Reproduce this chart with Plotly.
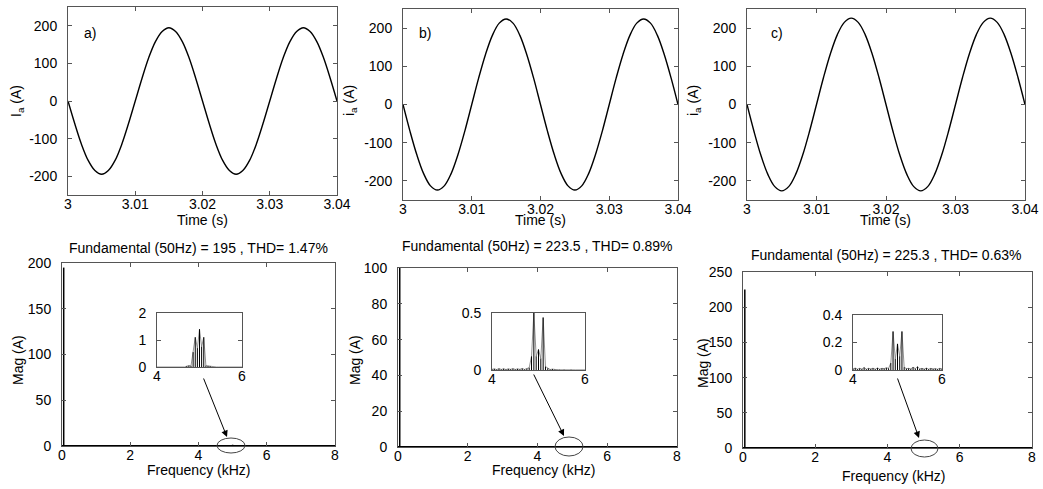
import plotly.graph_objects as go

W, H = 1043, 489
FONT = "Liberation Sans, Arial, sans-serif"

# ---------------- data ----------------
time_s = [3.000, 3.001, 3.002, 3.003, 3.004, 3.005, 3.006, 3.007, 3.008, 3.009,
          3.010, 3.011, 3.012, 3.013, 3.014, 3.015, 3.016, 3.017, 3.018, 3.019,
          3.020, 3.021, 3.022, 3.023, 3.024, 3.025, 3.026, 3.027, 3.028, 3.029,
          3.030, 3.031, 3.032, 3.033, 3.034, 3.035, 3.036, 3.037, 3.038, 3.039, 3.040]

ia_a = [0, -60, -115, -158, -185, -195, -185, -158, -115, -60,
        0, 60, 115, 158, 185, 195, 185, 158, 115, 60,
        0, -60, -115, -158, -185, -195, -185, -158, -115, -60,
        0, 60, 115, 158, 185, 195, 185, 158, 115, 60, 0]
ia_b = [0, -69, -131, -181, -213, -224, -213, -181, -131, -69,
        0, 69, 131, 181, 213, 224, 213, 181, 131, 69,
        0, -69, -131, -181, -213, -224, -213, -181, -131, -69,
        0, 69, 131, 181, 213, 224, 213, 181, 131, 69, 0]
ia_c = [0, -70, -133, -183, -215, -226, -215, -183, -133, -70,
        0, 70, 133, 183, 215, 226, 215, 183, 133, 70,
        0, -70, -133, -183, -215, -226, -215, -183, -133, -70,
        0, 70, 133, 183, 215, 226, 215, 183, 133, 70, 0]

fund_freq = 0.05                     # kHz
fund_mag = [195.0, 223.5, 225.3]
thd_text = ["1.47%", "0.89%", "0.63%"]
fund_text = ["195", "223.5", "225.3"]

ins_freq = [4.00, 4.05, 4.10, 4.15, 4.20, 4.25, 4.30, 4.35, 4.40, 4.45,
            4.50, 4.55, 4.60, 4.65, 4.70, 4.75, 4.80, 4.85, 4.90, 4.95,
            5.00, 5.05, 5.10, 5.15, 5.20, 5.25, 5.30, 5.35, 5.40, 5.45,
            5.50, 5.55, 5.60, 5.65, 5.70, 5.75, 5.80, 5.85, 5.90, 5.95, 6.00]
ins_a = [0, 0, 0, 0, 0, 0, 0, 0, 0, 0,
         0, 0, 0, 0, 0.03, 0.05, 0.04, 0.55, 1.10, 0.70,
         1.40, 0.75, 1.10, 0.05, 0.04, 0.03, 0, 0, 0, 0,
         0, 0, 0, 0, 0, 0, 0, 0, 0, 0, 0]
ins_b = [0.006, 0.010, 0.004, 0.012, 0.005, 0.011, 0.004, 0.010, 0.006, 0.012,
         0.005, 0.010, 0.006, 0.013, 0.005, 0.012, 0.020, 0.120, 0.500, 0.120,
         0.180, 0.100, 0.460, 0.030, 0.015, 0.004, 0.008, 0.003, 0.002, 0.002,
         0.001, 0.002, 0.001, 0.001, 0.002, 0.001, 0.001, 0.001, 0.001, 0.001, 0.001]
ins_c = [0.008, 0.014, 0.006, 0.012, 0.007, 0.018, 0.006, 0.012, 0.008, 0.013,
         0.006, 0.015, 0.007, 0.012, 0.010, 0.016, 0.012, 0.050, 0.280, 0.080,
         0.190, 0.100, 0.280, 0.020, 0.010, 0.012, 0.008, 0.020, 0.010, 0.024,
         0.008, 0.012, 0.007, 0.014, 0.006, 0.012, 0.008, 0.010, 0.006, 0.012, 0.008]

top_ticks = [3.00, 3.01, 3.02, 3.03, 3.04]
top_ticktext = ["3", "3.01", "3.02", "3.03", "3.04"]
ia_ticks = [-200, -100, 0, 100, 200]
ia_ticktext = ["-200", "-100", "0", "100", "200"]
freq_ticks = [0, 2, 4, 6, 8]
mag_ticks = [[0, 50, 100, 150, 200], [0, 20, 40, 60, 80, 100], [0, 50, 100, 150, 200, 250]]
mag_max = [200, 100, 250]
ins_yticks = [[0, 1, 2], [0, 0.5], [0, 0.2, 0.4]]
ins_max = [2, 0.5, 0.4]
panel_labels = ["a)", "b)", "c)"]
ylab_top = ["I<sub>a</sub> (A)", "i<sub>a</sub> (A)", "i<sub>a</sub> (A)"]

# ---------------- layout geometry (pixels) ----------------
top_box = [(68, 337, 7, 195), (403, 678, 9, 200), (747, 1025, 9, 200)]
bot_box = [(62, 335, 263, 446), (398, 677, 268, 447), (743, 1032, 272, 448)]
ins_box = [(157, 242, 313, 367), (492, 585, 313, 370), (853, 942, 315, 370)]


def dx(l, r):
    return [l / W, r / W]


def dy(t, b):
    return [1 - b / H, 1 - t / H]


def px(x):
    return x / W


def py(y):
    return 1 - y / H


base = dict(showline=True, linecolor="#555", linewidth=1, mirror="ticks",
            ticks="inside", ticklen=4, tickcolor="#555", showgrid=False,
            zeroline=False, automargin=False,
            tickfont=dict(family=FONT, size=14, color="black"))
xstyle = dict(base, ticklabelstandoff=-4)
ystyle = dict(base, ticklabelstandoff=7)


def stems(freqs, mags):
    xs, ys = [], []
    for f, v in zip(freqs, mags):
        xs += [f, f, None]
        ys += [0, v, None]
    return xs, ys


fig = go.Figure()
layout = dict(width=W, height=H, margin=dict(l=0, r=0, t=0, b=0, autoexpand=False),
              paper_bgcolor="white", plot_bgcolor="white", showlegend=False)

ia_all = [ia_a, ia_b, ia_c]
ins_all = [ins_a, ins_b, ins_c]

annotations = []
shapes = []

for i in range(3):
    # top: waveform
    n = i + 1
    xa, ya = ("x" if n == 1 else f"x{n}"), ("y" if n == 1 else f"y{n}")
    fig.add_trace(go.Scatter(x=time_s, y=ia_all[i], mode="lines", line_shape="spline",
                             line=dict(color="black", width=1.4), xaxis=xa, yaxis=ya))
    l, r, t, b = top_box[i]
    key = "" if n == 1 else str(n)
    layout[f"xaxis{key}"] = dict(xstyle, domain=dx(l, r), range=[3.0, 3.04],
                                 tickvals=top_ticks, ticktext=top_ticktext, anchor=ya)
    layout[f"yaxis{key}"] = dict(ystyle, domain=dy(t, b), range=[-250, 250],
                                 tickvals=ia_ticks, ticktext=ia_ticktext, anchor=xa)

    # bottom: spectrum (baseline + stems)
    m = i + 4
    xb, yb = f"x{m}", f"y{m}"
    fig.add_trace(go.Scatter(x=[0, 8], y=[0, 0], mode="lines",
                             line=dict(color="black", width=2), xaxis=xb, yaxis=yb))
    sx, sy = stems([fund_freq] + ins_freq, [fund_mag[i]] + ins_all[i])
    fig.add_trace(go.Scatter(x=sx, y=sy, mode="lines",
                             line=dict(color="black", width=1.5), xaxis=xb, yaxis=yb))
    l, r, t, b = bot_box[i]
    layout[f"xaxis{m}"] = dict(xstyle, domain=dx(l, r), range=[0, 8],
                               tickvals=freq_ticks, anchor=yb)
    layout[f"yaxis{m}"] = dict(ystyle, domain=dy(t, b), range=[0, mag_max[i]],
                               tickvals=mag_ticks[i], anchor=xb)

    # inset
    k = i + 7
    xi, yi = f"x{k}", f"y{k}"
    fig.add_trace(go.Scatter(x=ins_freq, y=ins_all[i], mode="lines",
                             line=dict(color="#777", width=0.8), xaxis=xi, yaxis=yi))
    sx, sy = stems(ins_freq, ins_all[i])
    fig.add_trace(go.Scatter(x=sx, y=sy, mode="lines",
                             line=dict(color="black", width=1), xaxis=xi, yaxis=yi))
    l, r, t, b = ins_box[i]
    layout[f"xaxis{k}"] = dict(xstyle, domain=dx(l, r), range=[4, 6],
                               tickvals=[4, 6], anchor=yi)
    layout[f"yaxis{k}"] = dict(ystyle, domain=dy(t, b), range=[0, ins_max[i]],
                               tickvals=ins_yticks[i], anchor=xi)


# ---------------- text ----------------
def txt(x, y, s, angle=0, size=14):
    annotations.append(dict(x=px(x), y=py(y), xref="paper", yref="paper", text=s,
                            showarrow=False, textangle=angle, xanchor="center",
                            yanchor="middle", font=dict(family=FONT, size=size, color="black")))


label_pos = [(90, 33), (425, 33), (777, 33)]
ylab_top_pos = [(17, 101), (350, 101), (694, 101)]
time_pos = [(202, 220), (540, 220), (885, 220)]
title_pos = [(198, 248), (537, 246), (886, 255)]
mag_pos = [(18, 360), (355, 360), (703, 363)]
freq_pos = [(198, 470), (543, 470), (893, 476)]

for i in range(3):
    txt(*label_pos[i], panel_labels[i])
    txt(*ylab_top_pos[i], ylab_top[i], angle=-90)
    txt(*time_pos[i], "Time (s)")
    txt(*title_pos[i], f"Fundamental (50Hz) = {fund_text[i]} , THD= {thd_text[i]}")
    txt(*mag_pos[i], "Mag (A)", angle=-90)
    txt(*freq_pos[i], "Frequency (kHz)")

# ellipses and arrows
ellipses = [(217, 245, 438, 453), (555, 583, 437, 456), (911, 938, 440, 457)]
arrows = [((203, 377), (227, 437)), ((533, 373), (564, 436)), ((897, 377), (919, 438))]
for (l, r, t, b) in ellipses:
    shapes.append(dict(type="circle", xref="paper", yref="paper", x0=px(l), x1=px(r),
                       y0=py(b), y1=py(t), line=dict(color="#444", width=1)))
for (tail, head) in arrows:
    annotations.append(dict(x=px(head[0]), y=py(head[1]), xref="paper", yref="paper",
                            ax=tail[0] - head[0], ay=tail[1] - head[1], text="",
                            showarrow=True, arrowhead=2, arrowsize=1.3, arrowwidth=1,
                            arrowcolor="black"))

layout["annotations"] = annotations
layout["shapes"] = shapes
fig.update_layout(**layout)
fig.write_html("out.html")
